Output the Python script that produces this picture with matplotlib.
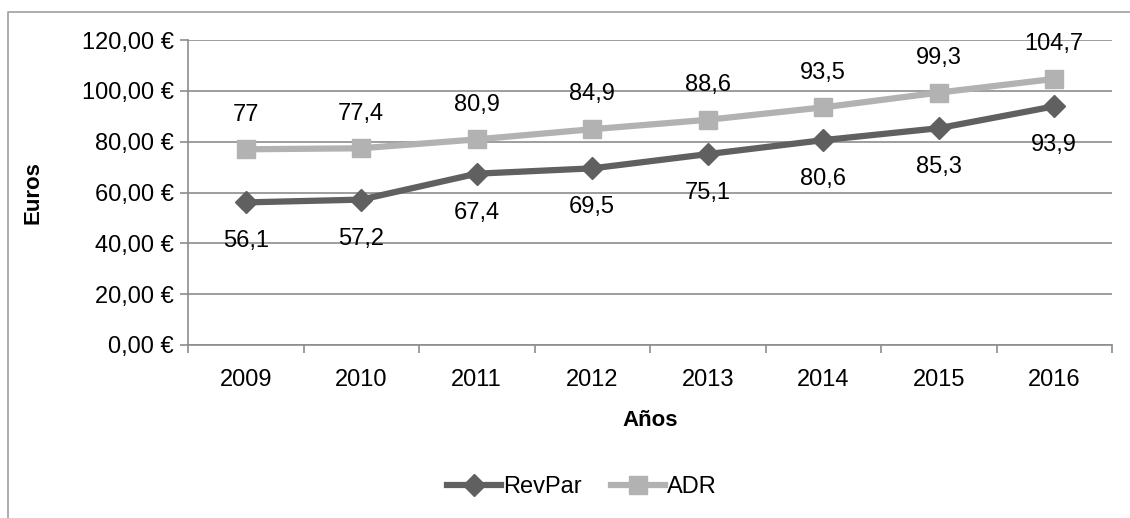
import matplotlib.pyplot as plt
from matplotlib.lines import Line2D

years = ["2009", "2010", "2011", "2012", "2013", "2014", "2015", "2016"]
revpar = [56.1, 57.2, 67.4, 69.5, 75.1, 80.6, 85.3, 93.9]
adr = [77, 77.4, 80.9, 84.9, 88.6, 93.5, 99.3, 104.7]
yticks = [0, 20, 40, 60, 80, 100, 120]

plt.rcParams["font.family"] = ["Liberation Sans", "DejaVu Sans"]

W, H = 1130, 518
fig = plt.figure(figsize=(W / 100, H / 100), dpi=100)
ax = fig.add_axes([188 / W, 1 - 345 / H, (1112 - 188) / W, (345 - 40) / H])

grid_c = "#8c8c8c"
dark = "#606060"
light = "#b2b2b2"
fs = 17

x = list(range(len(years)))
ax.plot(x, revpar, color=dark, lw=4.5, marker="D", ms=11, label="RevPar", zorder=3)
ax.plot(x, adr, color=light, lw=4.5, marker="s", ms=13, label="ADR", zorder=2)

def fmt(v):
    return f"{v:g}".replace(".", ",")

for i, v in enumerate(adr):
    ax.annotate(fmt(v), (i, v), xytext=(0, 25), textcoords="offset points",
                ha="center", va="center", fontsize=fs)
for i, v in enumerate(revpar):
    ax.annotate(fmt(v), (i, v), xytext=(0, -28), textcoords="offset points",
                ha="center", va="center", fontsize=fs)

ax.set_xlim(-0.5, len(years) - 0.5)
ax.set_ylim(0, 120)
ax.set_yticks(yticks)
ax.set_yticklabels([f"{t:.2f}".replace(".", ",") + " €" for t in yticks], fontsize=fs)
ax.set_xticks(x)
ax.set_xticklabels(years, fontsize=fs)
ax.set_xticks([i - 0.5 for i in range(len(years) + 1)], minor=True)
ax.tick_params(axis="x", which="major", length=0, pad=17)
ax.tick_params(axis="x", which="minor", length=6, color=grid_c, width=1.2)
ax.tick_params(axis="y", length=6, color=grid_c, width=1.2, pad=4)
ax.grid(axis="y", color=grid_c, lw=1.2)
ax.set_axisbelow(True)
for s in ["top", "right"]:
    ax.spines[s].set_visible(False)
for s in ["left", "bottom"]:
    ax.spines[s].set_color(grid_c)
    ax.spines[s].set_linewidth(1.2)

ax.set_ylabel("Euros", fontsize=16, fontweight="bold", labelpad=28)
ax.set_xlabel("Años", fontsize=16, fontweight="bold", labelpad=14)

fig.legend(loc="center", bbox_to_anchor=(0.515, 1 - 487 / H), ncol=2, frameon=False,
           fontsize=fs, handlelength=2.3, handletextpad=0.1, columnspacing=1.2)

border = "#a0a0a0"
fig.add_artist(Line2D([8 / W, 8 / W, 1], [0, 1 - 12 / H, 1 - 12 / H],
                      transform=fig.transFigure, color=border, lw=1.2))

fig.savefig("out.png", dpi=100)
